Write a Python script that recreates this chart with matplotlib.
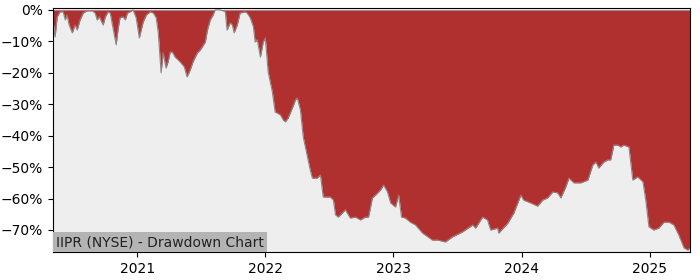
import pandas as pd
import matplotlib
matplotlib.use("Agg")
from matplotlib import pyplot as plt
import matplotlib.dates as mdates
from matplotlib.ticker import PercentFormatter

title = "IIPR (NYSE) - Drawdown Chart"

dates = [
    "2020-05-06", "2020-05-12", "2020-05-18", "2020-05-26", "2020-06-04", "2020-06-10",
    "2020-06-15", "2020-06-21", "2020-06-30", "2020-07-08", "2020-07-14", "2020-07-22",
    "2020-07-31", "2020-08-11", "2020-08-26", "2020-09-03", "2020-09-09", "2020-09-15",
    "2020-09-26", "2020-10-02", "2020-10-10", "2020-10-16", "2020-10-24", "2020-11-02",
    "2020-11-08", "2020-11-13", "2020-11-22", "2020-11-28", "2020-12-04", "2020-12-12",
    "2020-12-20", "2020-12-29", "2021-01-07", "2021-01-18", "2021-01-27", "2021-02-07",
    "2021-02-16", "2021-02-24", "2021-03-02", "2021-03-10", "2021-03-16", "2021-03-24",
    "2021-03-30", "2021-04-05", "2021-04-11", "2021-04-19", "2021-05-03", "2021-05-15",
    "2021-05-23", "2021-06-01", "2021-06-09", "2021-06-21", "2021-06-30", "2021-07-14",
    "2021-07-20", "2021-07-28", "2021-08-05", "2021-08-11", "2021-08-25", "2021-09-03",
    "2021-09-09", "2021-09-14", "2021-09-23", "2021-09-29", "2021-10-04", "2021-10-13",
    "2021-10-21", "2021-11-05", "2021-11-10", "2021-11-19", "2021-11-28", "2021-12-03",
    "2021-12-09", "2021-12-18", "2021-12-26", "2022-01-01", "2022-01-09", "2022-01-21",
    "2022-01-29", "2022-02-04", "2022-02-13", "2022-02-21", "2022-02-27", "2022-03-07",
    "2022-03-19", "2022-03-28", "2022-04-02", "2022-04-11", "2022-04-19", "2022-05-01",
    "2022-05-09", "2022-05-15", "2022-05-29", "2022-06-07", "2022-06-15", "2022-07-05",
    "2022-07-14", "2022-07-20", "2022-07-28", "2022-08-17", "2022-08-31", "2022-09-15",
    "2022-09-29", "2022-10-13", "2022-10-22", "2022-11-02", "2022-11-11", "2022-11-25",
    "2022-12-04", "2022-12-15", "2022-12-24", "2023-01-07", "2023-01-16", "2023-01-24",
    "2023-02-04", "2023-02-18", "2023-03-05", "2023-03-25", "2023-04-22", "2023-05-07",
    "2023-05-29", "2023-06-18", "2023-07-17", "2023-08-15", "2023-08-23", "2023-09-12",
    "2023-09-26", "2023-10-05", "2023-10-25", "2023-10-28", "2023-11-23", "2023-12-10",
    "2023-12-30", "2024-01-07", "2024-01-27", "2024-02-16", "2024-03-01", "2024-03-15",
    "2024-03-30", "2024-04-13", "2024-04-22", "2024-05-06", "2024-05-15", "2024-05-29",
    "2024-06-18", "2024-07-08", "2024-07-22", "2024-07-31", "2024-08-08", "2024-08-22",
    "2024-09-03", "2024-09-11", "2024-09-20", "2024-10-01", "2024-10-10", "2024-10-18",
    "2024-11-02", "2024-11-13", "2024-11-27", "2024-12-12", "2024-12-20", "2024-12-29",
    "2025-01-12", "2025-01-26", "2025-02-10", "2025-02-24", "2025-03-10", "2025-03-24",
    "2025-04-08", "2025-04-19", "2025-04-25",
]

# drawdown in percent
drawdown = [
    -3.2, -8.6, -2.2, -0.6, -0.6, -3.2,
    -1.6, -4.8, -7.3, -4.8, -6.4, -3.2,
    -1.0, -0.3, -0.3, -1.0, -3.2, -2.2,
    -4.8, -2.2, -0.6, -1.0, -5.7, -11.1,
    -5.7, -2.5, -2.2, -3.2, -1.0, -0.6,
    0.0, -2.5, -8.9, -3.8, -1.6, -0.6,
    -1.0, -2.5, -7.3, -20.0, -13.7, -18.5,
    -16.5, -13.4, -13.4, -15.0, -16.5, -18.1,
    -21.3, -19.1, -16.5, -13.7, -12.7, -10.2,
    -6.4, -3.2, -1.6, 0.0, 0.0, -0.3,
    -0.6, -6.4, -4.1, -4.8, -7.3, -4.8,
    -1.0, -0.6, -1.0, -2.5, -5.4, -10.2,
    -9.5, -15.0, -10.2, -8.9, -19.7, -26.1,
    -32.5, -32.8, -33.4, -35.0, -35.6, -34.4,
    -31.2, -28.6, -28.0, -31.8, -40.4, -46.8,
    -50.9, -53.5, -53.5, -52.5, -59.5, -59.5,
    -60.5, -65.2, -65.9, -63.6, -66.2, -65.9,
    -66.8, -65.9, -65.9, -59.8, -58.9, -57.3,
    -55.7, -57.9, -61.4, -62.7, -58.9, -65.9,
    -66.2, -67.5, -68.4, -71.0, -73.2, -73.2,
    -73.8, -72.2, -70.6, -68.4, -69.4, -65.9,
    -66.8, -70.0, -69.4, -71.0, -67.8, -64.6,
    -58.9, -60.5, -61.4, -62.4, -60.5, -59.8,
    -57.9, -58.2, -59.8, -56.3, -53.5, -55.0,
    -55.0, -54.1, -49.3, -48.4, -50.3, -48.4,
    -47.7, -47.7, -43.0, -43.0, -43.6, -43.0,
    -43.6, -54.1, -53.1, -54.7, -60.5, -69.0,
    -70.0, -69.4, -67.5, -67.5, -68.4, -71.6,
    -75.7, -76.4, -75.7,
]

x = pd.to_datetime(dates)

fig = plt.figure(figsize=(7, 2.8), dpi=100)
ax = fig.add_axes([0.0757, 0.1, 0.91, 0.8714])
ax.set_facecolor("#eeeeee")

ax.fill_between(x, drawdown, 0, color="#b03030", linewidth=0)
ax.plot(x, drawdown, color="#888888", linewidth=0.8)

ax.set_xlim(x[0], x[-1])
ax.set_ylim(-77.0, 0.6)
ax.yaxis.set_major_formatter(PercentFormatter(100, decimals=0))
ax.set_yticks([0, -10, -20, -30, -40, -50, -60, -70])
ax.xaxis.set_major_locator(mdates.YearLocator())
ax.xaxis.set_major_formatter(mdates.DateFormatter("%Y"))

ax.annotate(title, xy=(0, 0), xycoords="axes fraction",
            xytext=(3, 3), textcoords="offset pixels",
            fontsize=10, color="#222222", ha="left", va="bottom",
            bbox=dict(facecolor="#b4b4b4", edgecolor="none", pad=2))

fig.savefig("out.png", dpi=100)
